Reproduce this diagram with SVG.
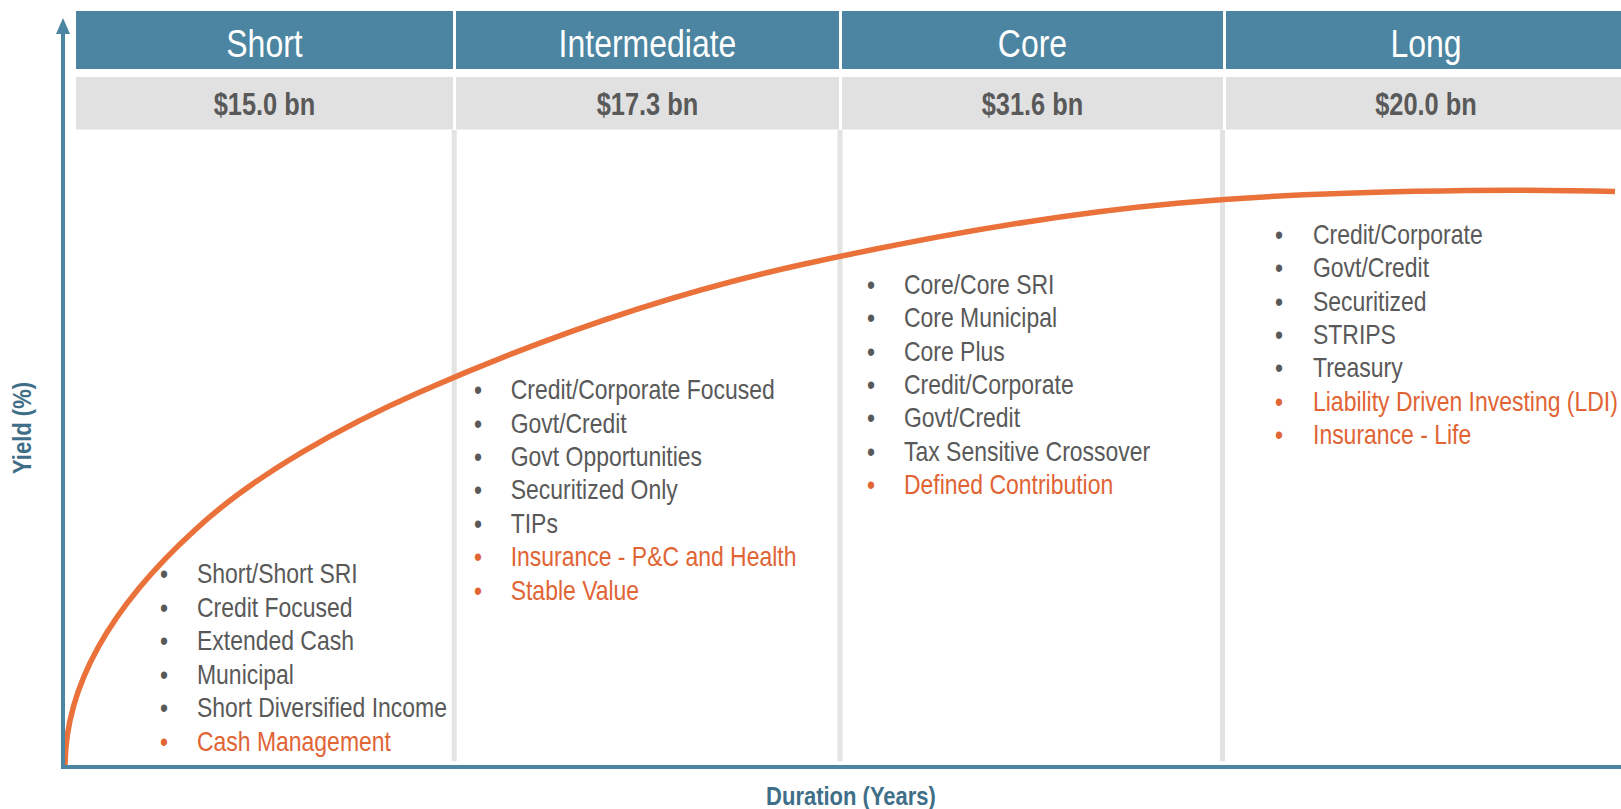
<svg xmlns="http://www.w3.org/2000/svg" width="1621" height="809" viewBox="0 0 1621 809">
  <defs>
    <style>
      text { font-family: "Liberation Sans Narrow", "Liberation Sans", Arial, sans-serif; }
      .hdr { fill: #4B85A1; }
      .amt { fill: #E1E1E1; }
      .hdrt { fill: #FFFFFF; font-size: 39px; text-anchor: middle; }
      .amtt { fill: #595959; font-size: 31px; font-weight: bold; text-anchor: middle; }
      .div { fill: #E3E3E3; }
      .it { fill: #595959; font-size: 28px; }
      .hi { fill: #E06434; }
      .axis { stroke: #4B85A1; stroke-width: 4; fill: none; }
      .axlbl { fill: #3F6F88; font-size: 25px; font-weight: bold; text-anchor: middle; }
      .curve { stroke: #EA7139; stroke-width: 5.5; fill: none; stroke-linecap: butt; }
    </style>
  </defs>
  <rect width="1621" height="809" fill="#FFFFFF"/>

  <g id="dividers">
    <rect class="div" x="451.7" y="130" width="5" height="631"/>
    <rect class="div" x="837.5" y="130" width="5" height="631"/>
    <rect class="div" x="1220" y="130" width="5" height="631"/>
  </g>

  <g id="col-short">
    <rect class="hdr" x="76" y="11" width="377" height="58"/>
    <rect class="amt" x="76" y="77" width="377" height="52.5"/>
    <g transform="scale(0.82,1)">
      <text class="hdrt" x="322.56" y="57">Short</text>
      <text class="amtt" x="322.56" y="115">$15.0 bn</text>
      <g class="it">
        <text x="195.12" y="583.5">•</text><text x="240.24" y="583.5">Short/Short SRI</text>
        <text x="195.12" y="617">•</text><text x="240.24" y="617">Credit Focused</text>
        <text x="195.12" y="650.5">•</text><text x="240.24" y="650.5">Extended Cash</text>
        <text x="195.12" y="684">•</text><text x="240.24" y="684">Municipal</text>
        <text x="195.12" y="717.5">•</text><text x="240.24" y="717.5">Short Diversified Income</text>
        <text class="hi" x="195.12" y="751">•</text><text class="hi" x="240.24" y="751">Cash Management</text>
      </g>
    </g>
  </g>

  <g id="col-intermediate">
    <rect class="hdr" x="456" y="11" width="383" height="58"/>
    <rect class="amt" x="456" y="77" width="383" height="52.5"/>
    <g transform="scale(0.82,1)">
      <text class="hdrt" x="789.63" y="57">Intermediate</text>
      <text class="amtt" x="789.63" y="115">$17.3 bn</text>
      <g class="it">
        <text x="578.05" y="399.3">•</text><text x="622.8" y="399.3">Credit/Corporate Focused</text>
        <text x="578.05" y="432.7">•</text><text x="622.8" y="432.7">Govt/Credit</text>
        <text x="578.05" y="466">•</text><text x="622.8" y="466">Govt Opportunities</text>
        <text x="578.05" y="499.5">•</text><text x="622.8" y="499.5">Securitized Only</text>
        <text x="578.05" y="533">•</text><text x="622.8" y="533">TIPs</text>
        <text class="hi" x="578.05" y="566.3">•</text><text class="hi" x="622.8" y="566.3">Insurance - P&amp;C and Health</text>
        <text class="hi" x="578.05" y="599.7">•</text><text class="hi" x="622.8" y="599.7">Stable Value</text>
      </g>
    </g>
  </g>

  <g id="col-core">
    <rect class="hdr" x="842" y="11" width="381" height="58"/>
    <rect class="amt" x="842" y="77" width="381" height="52.5"/>
    <g transform="scale(0.82,1)">
      <text class="hdrt" x="1259.15" y="57">Core</text>
      <text class="amtt" x="1259.15" y="115">$31.6 bn</text>
      <g class="it">
        <text x="1057.32" y="294">•</text><text x="1102.44" y="294">Core/Core SRI</text>
        <text x="1057.32" y="327.3">•</text><text x="1102.44" y="327.3">Core Municipal</text>
        <text x="1057.32" y="360.7">•</text><text x="1102.44" y="360.7">Core Plus</text>
        <text x="1057.32" y="394">•</text><text x="1102.44" y="394">Credit/Corporate</text>
        <text x="1057.32" y="427.3">•</text><text x="1102.44" y="427.3">Govt/Credit</text>
        <text x="1057.32" y="460.7">•</text><text x="1102.44" y="460.7">Tax Sensitive Crossover</text>
        <text class="hi" x="1057.32" y="494">•</text><text class="hi" x="1102.44" y="494">Defined Contribution</text>
      </g>
    </g>
  </g>

  <g id="col-long">
    <rect class="hdr" x="1226" y="11" width="400" height="58"/>
    <rect class="amt" x="1226" y="77" width="400" height="52.5"/>
    <g transform="scale(0.82,1)">
      <text class="hdrt" x="1739.02" y="57">Long</text>
      <text class="amtt" x="1739.02" y="115">$20.0 bn</text>
      <g class="it">
        <text x="1554.88" y="244">•</text><text x="1601.22" y="244">Credit/Corporate</text>
        <text x="1554.88" y="277.3">•</text><text x="1601.22" y="277.3">Govt/Credit</text>
        <text x="1554.88" y="310.7">•</text><text x="1601.22" y="310.7">Securitized</text>
        <text x="1554.88" y="344">•</text><text x="1601.22" y="344">STRIPS</text>
        <text x="1554.88" y="377.3">•</text><text x="1601.22" y="377.3">Treasury</text>
        <text class="hi" x="1554.88" y="410.7">•</text><text class="hi" x="1601.22" y="410.7">Liability Driven Investing (LDI)</text>
        <text class="hi" x="1554.88" y="444">•</text><text class="hi" x="1601.22" y="444">Insurance - Life</text>
      </g>
    </g>
  </g>

  <g id="yield-curve">
    <path class="curve" d="M 65 767 Q 65 648.5 195 530 C 255 474 345 425 420 392 C 545 337 675 292.5 800 265 C 925 237.5 1055 214 1180 203 C 1325 190 1515 188.5 1615 191.5"/>
  </g>

  <g id="connectors">
    <path class="axis" d="M 63 32 L 63 767 L 1621 767"/>
    <polygon points="63,18 56,34 70,34" fill="#4B85A1"/>
  </g>

  <g id="axis-labels">
    <text class="axlbl" transform="translate(851,805) scale(0.88,1)">Duration (Years)</text>
    <text class="axlbl" transform="translate(31,428) rotate(-90) scale(0.88,1)">Yield (%)</text>
  </g>
</svg>
